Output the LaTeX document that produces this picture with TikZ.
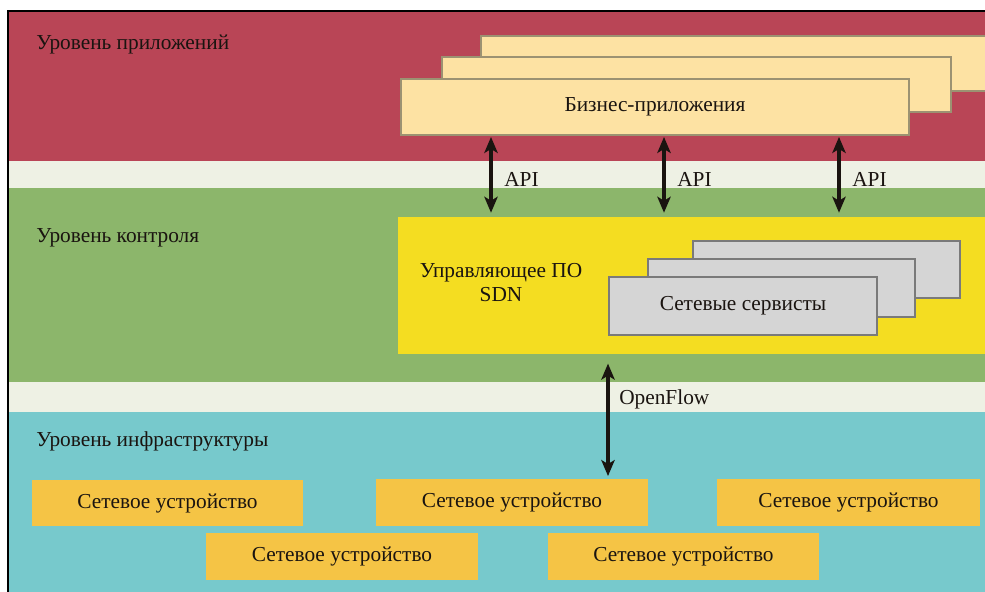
\documentclass[tikz,border=0pt]{standalone}
\usepackage{fontspec}
\setmainfont{Liberation Serif}
\usetikzlibrary{fit,arrows.meta}
\definecolor{redband}{HTML}{B94556}
\definecolor{lightband}{HTML}{EEF1E4}
\definecolor{greenband}{HTML}{8CB66B}
\definecolor{tealband}{HTML}{77C9CC}
\definecolor{bizfill}{HTML}{FDE2A3}
\definecolor{bizline}{HTML}{9C9272}
\definecolor{sdnfill}{HTML}{F4DD21}
\definecolor{grayfill}{HTML}{D5D5D5}
\definecolor{grayline}{HTML}{7A7A7A}
\definecolor{devfill}{HTML}{F5C445}
\definecolor{textdark}{HTML}{1A1410}
\tikzset{
  txt/.style={font=\fontsize{16}{18}\selectfont, text=textdark},
  band/.style={inner sep=0pt, draw=none},
  title/.style={txt, anchor=west, inner sep=0pt},
  bizbox/.style={inner sep=0pt, fill=bizfill, draw=bizline, line width=0.9pt},
  graybox/.style={inner sep=0pt, fill=grayfill, draw=grayline, line width=0.9pt},
  devbox/.style={inner sep=0pt, fill=devfill, draw=none},
  sdnbox/.style={inner sep=0pt, fill=sdnfill, draw=none},
  arr/.style={line width=2.6pt, draw=textdark, {Stealth[length=12pt,width=10pt,inset=3pt]}-{Stealth[length=12pt,width=10pt,inset=3pt]}},
  lbl/.style={txt, anchor=west, inner sep=0pt}
}
\begin{document}
\begin{tikzpicture}[x=0.75pt,y=-0.75pt]
\useasboundingbox (0,0) rectangle (985,592);
\fill[white] (0,0) rectangle (985,592);
% bands
\node[band, fill=redband, fit={(9,12) (990,161)}] (red) {};
\node[band, fill=lightband, fit={(9,161) (990,188)}] (light1) {};
\node[band, fill=greenband, fit={(9,188) (990,382)}] (green) {};
\node[band, fill=lightband, fit={(9,382) (990,412)}] (light2) {};
\node[band, fill=tealband, fit={(9,412) (990,600)}] (teal) {};
\draw[black, line width=1pt] (8,600) -- (8,11) -- (990,11);
% titles
\node[title] (tapp) at (36,44) {Уровень приложений};
\node[title] (tctl) at (36,238) {Уровень контроля};
\node[title] (tinf) at (36,441) {Уровень инфраструктуры};
% business apps
\node[bizbox, fit={(481,36) (1000,91)}] (bback) {};
\node[bizbox, fit={(442,57) (951,112)}] (bmid) {};
\node[bizbox, fit={(401,79) (909,135)}] (bfront) {};
\node[txt, inner sep=0pt] (btext) at (bfront.center) {Бизнес-приложения};
% SDN controller
\node[sdnbox, fit={(398,217) (1000,354)}] (sdn) {};
\node[txt, align=center, inner sep=0pt] (sdntext) at (501,283) {Управляющее ПО\\SDN};
\node[graybox, fit={(693,241) (960,298)}] (gback) {};
\node[graybox, fit={(648,259) (915,317)}] (gmid) {};
\node[graybox, fit={(609,277) (877,335)}] (gfront) {};
\node[txt, inner sep=0pt] (gtext) at (gfront.center) {Сетевые сервисты};
% devices
\node[devbox, fit={(32,480) (303,526)}] (d1) {};
\node[devbox, fit={(376,479) (648,526)}] (d2) {};
\node[devbox, fit={(717,479) (980,526)}] (d3) {};
\node[devbox, fit={(206,533) (478,580)}] (d4) {};
\node[devbox, fit={(548,533) (819,580)}] (d5) {};
\foreach \d in {d1,d2,d3,d4,d5}{
  \node[txt, inner sep=0pt] at (\d.center) {Сетевое устройство};
}
% API arrows
\coordinate (a1) at (491,0);
\coordinate (a2) at (664,0);
\coordinate (a3) at (839,0);
\draw[arr, shorten <=1pt, shorten >=3pt] (bfront.south -| a1) -- (sdn.north -| a1);
\draw[arr, shorten <=1pt, shorten >=3pt] (bfront.south -| a2) -- (sdn.north -| a2);
\draw[arr, shorten <=1pt, shorten >=3pt] (bfront.south -| a3) -- (sdn.north -| a3);
\node[lbl] (api1) at (504,179) {API};
\node[lbl] (api2) at (677,179) {API};
\node[lbl] (api3) at (852,179) {API};
% OpenFlow
\coordinate (of) at (608,0);
\draw[arr, shorten <=7pt, shorten >=2pt] (sdn.south -| of) -- (d2.north -| of);
\node[lbl] (oflbl) at (619,399) {OpenFlow};
\end{tikzpicture}
\end{document}
